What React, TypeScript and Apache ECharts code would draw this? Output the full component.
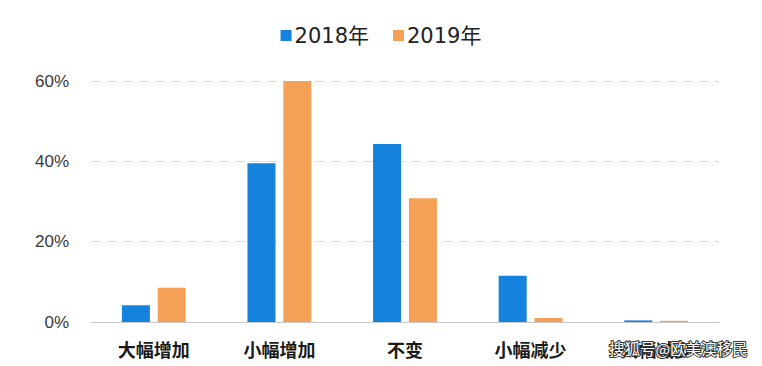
import React, { useEffect, useRef } from "react";
import * as echarts from "echarts";

const categories = ["大幅增加", "小幅增加", "不变", "小幅减少", "大幅减少"];
const series2018 = [4.2, 39.5, 44.3, 11.5, 0.4];
const series2019 = [8.5, 60, 30.8, 1.0, 0.3];
const yTicks = { min: 0, max: 60, interval: 20 };
const seriesNames = ["2018年", "2019年"];
const watermark = "搜狐号@欧美澳移民";

export default function App() {
  const ref = useRef<HTMLDivElement>(null);
  useEffect(() => {
    if (!ref.current) return;
    const chart = echarts.init(ref.current, null, { renderer: "svg" });
    chart.setOption({
      animation: false,
      backgroundColor: "#ffffff",
      legend: {
        top: 20,
        left: "center",
        itemWidth: 11,
        itemHeight: 11,
        itemGap: 24,
        icon: "rect",
        textStyle: {
          fontSize: 21,
          color: "#222",
          fontFamily: "DejaVu Sans, Noto Sans CJK SC",
          padding: [0, 0, 0, -2],
        },
        data: seriesNames,
      },
      grid: { left: 91, right: 43, top: 81, bottom: 44 },
      xAxis: {
        type: "category",
        data: categories,
        axisTick: { show: false },
        axisLine: { lineStyle: { color: "#c8c8c8", width: 1 } },
        axisLabel: {
          margin: 18,
          fontSize: 18,
          fontWeight: "bold",
          color: "#1a1a1a",
          fontFamily: "Noto Sans CJK SC",
        },
      },
      yAxis: {
        type: "value",
        min: yTicks.min,
        max: yTicks.max,
        interval: yTicks.interval,
        axisLabel: {
          formatter: "{value}%",
          fontSize: 17,
          color: "#3a3a3a",
          margin: 22,
          fontFamily: "Liberation Sans",
        },
        axisLine: { show: false },
        axisTick: { show: false },
        splitLine: { lineStyle: { color: "#d8d8d8", type: [10, 6], width: 1 } },
      },
      series: [
        {
          name: seriesNames[0],
          type: "bar",
          data: series2018,
          barWidth: 28,
          barGap: "28%",
          itemStyle: { color: "#1582de" },
        },
        {
          name: seriesNames[1],
          type: "bar",
          data: series2019,
          barWidth: 28,
          itemStyle: { color: "#f4a056" },
        },
      ],
      graphic: [
        {
          type: "text",
          left: 608,
          top: 339,
          style: {
            text: watermark,
            fontSize: 15.5,
            fill: "#ffffff",
            stroke: "#333333",
            lineWidth: 2,
            fontFamily: "Noto Sans CJK SC",
          },
          z: 100,
        },
      ],
    });
    return () => chart.dispose();
  }, []);
  return (
    <div
      ref={ref}
      style={{ position: "fixed", left: 0, top: 0, width: 762, height: 366 }}
    />
  );
}
